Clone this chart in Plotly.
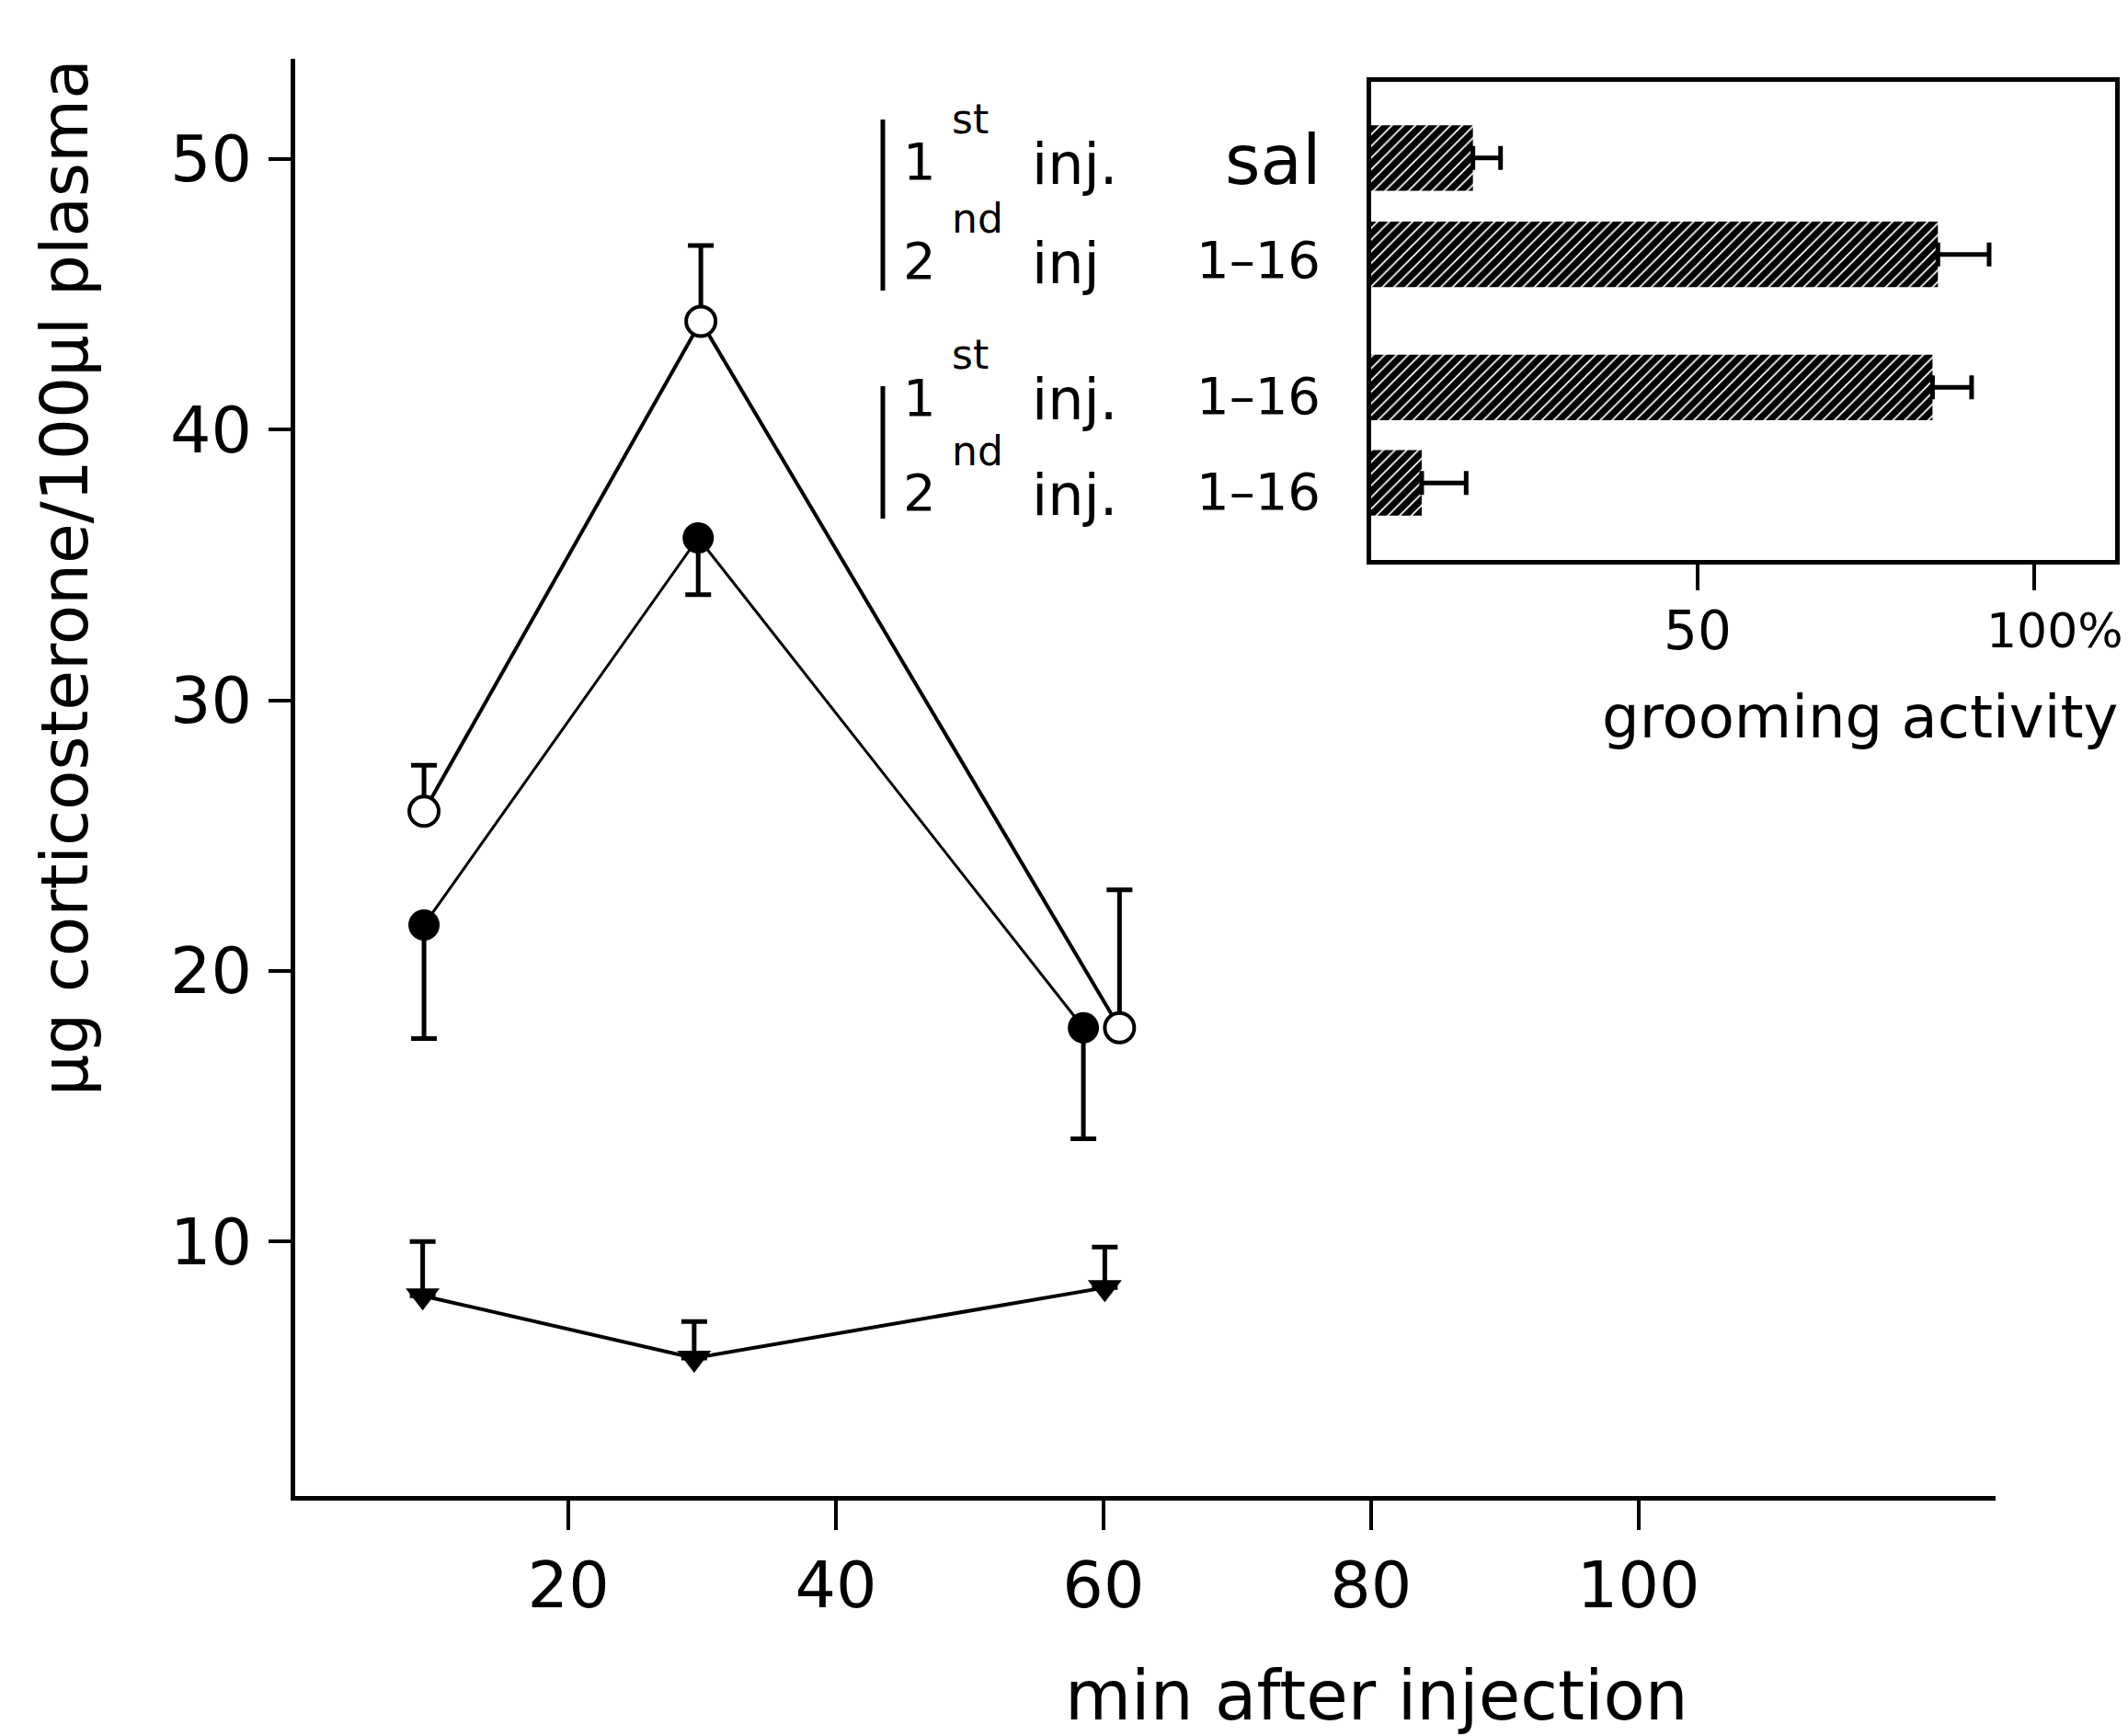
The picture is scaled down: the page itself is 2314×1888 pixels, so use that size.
import plotly.graph_objects as go

# ---------------- data ----------------
time_open = [9.2, 29.9, 61.2]
cort_open = [25.9, 44.0, 17.9]
err_open_up = [1.7, 2.8, 5.1]

time_filled = [9.2, 29.7, 58.5]
cort_filled = [21.7, 36.0, 17.9]
err_filled_down = [4.2, 2.1, 4.1]

time_tri = [9.1, 29.4, 60.1]
cort_tri = [8.0, 5.7, 8.3]
err_tri_up = [2.0, 1.35, 1.5]

x_ticks = [20, 40, 60, 80, 100]
y_ticks = [10, 20, 30, 40, 50]

groom_pos = [0, 1, 2.38, 3.37]
groom_vals = [16.7, 85.7, 84.9, 9.1]
groom_err = [4.1, 7.6, 5.8, 6.6]
groom_ticks = [50, 100]
groom_ticktext = ["50", "100%"]

row_ordinal = ["1", "2", "1", "2"]
row_suffix = ["st", "nd", "st", "nd"]
row_inj = ["inj.", "inj", "inj.", "inj."]
row_treat = ["sal", "1–16", "1–16", "1–16"]

W, H = 2314, 1888
FONT = "DejaVu Sans"


def px(x):
    return x / W


def py(y):
    return 1 - y / H


fig = go.Figure()

fig.add_trace(go.Scatter(
    x=time_filled, y=cort_filled, mode="lines+markers",
    line=dict(color="black", width=3),
    marker=dict(symbol="circle", size=34, color="black"),
    error_y=dict(type="data", symmetric=False, array=[0, 0, 0],
                 arrayminus=err_filled_down, color="black", thickness=5, width=14),
    showlegend=False))

fig.add_trace(go.Scatter(
    x=time_open, y=cort_open, mode="lines+markers",
    line=dict(color="black", width=4),
    marker=dict(symbol="circle", size=32, color="white",
                line=dict(color="black", width=4)),
    error_y=dict(type="data", symmetric=False, array=err_open_up,
                 arrayminus=[0, 0, 0], color="black", thickness=5, width=14),
    showlegend=False))

fig.add_trace(go.Scatter(
    x=time_tri, y=cort_tri, mode="lines+markers",
    line=dict(color="black", width=4),
    marker=dict(symbol="triangle-down", size=32, color="black"),
    error_y=dict(type="data", symmetric=False, array=err_tri_up,
                 arrayminus=[0, 0, 0], color="black", thickness=5, width=14),
    showlegend=False))

fig.add_trace(go.Bar(
    x=groom_vals, y=groom_pos, orientation="h", width=0.68,
    xaxis="x2", yaxis="y2",
    marker=dict(color="black", line=dict(width=0),
                pattern=dict(shape="/", fgcolor="black", bgcolor="white",
                             size=9, solidity=0.8, fillmode="replace")),
    error_x=dict(type="data", symmetric=False, array=groom_err,
                 arrayminus=[0, 0, 0, 0], color="black", thickness=5, width=13),
    showlegend=False))

fig.update_layout(
    width=W, height=H,
    margin=dict(l=0, r=0, t=0, b=0),
    paper_bgcolor="white", plot_bgcolor="rgba(0,0,0,0)",
    font=dict(family=FONT, color="black"),
    xaxis=dict(domain=[px(313), px(2162)], range=[-0.43, 126.7],
               tickvals=x_ticks, ticks="outside", ticklen=32, tickwidth=4,
               tickcolor="black", showline=True, linewidth=5, linecolor="black",
               showgrid=False, zeroline=False,
               tickfont=dict(family=FONT, size=70, color="black"),
               ticklabelstandoff=0, anchor="y"),
    yaxis=dict(domain=[py(1619), py(56)], range=[0.6, 53.7],
               tickvals=y_ticks, ticks="outside", ticklen=24, tickwidth=4,
               tickcolor="black", showline=True, linewidth=5, linecolor="black",
               showgrid=False, zeroline=False,
               tickfont=dict(family=FONT, size=70, color="black"),
               ticklabelstandoff=4, anchor="x"),
    xaxis2=dict(domain=[px(1483), px(2292)], range=[1.6, 112],
                tickvals=groom_ticks, showticklabels=False,
                ticks="outside", ticklen=28, tickwidth=4, tickcolor="black",
                showline=True, mirror=True, linewidth=5, linecolor="black",
                showgrid=False, zeroline=False, anchor="y2"),
    yaxis2=dict(domain=[py(601), py(81)], range=[4.17, -0.79],
                showticklabels=False, ticks="",
                showline=True, mirror=True, linewidth=5, linecolor="black",
                showgrid=False, zeroline=False, anchor="x2"),
)

annots = []
# axis titles
annots.append(dict(x=px(1489), y=py(1836), xref="paper", yref="paper",
                   xanchor="center", yanchor="middle",
                   text="min after injection", showarrow=False,
                   font=dict(family=FONT, size=74, color="black")))
annots.append(dict(x=px(62), y=py(620), xref="paper", yref="paper",
                   xanchor="center", yanchor="middle",
                   text="µg corticosterone/100µl plasma", textangle=-90,
                   showarrow=False, font=dict(family=FONT, size=71, color="black")))
annots.append(dict(x=px(2014), y=py(772), xref="paper", yref="paper",
                   xanchor="center", yanchor="middle",
                   text="grooming activity", showarrow=False,
                   font=dict(family=FONT, size=64, color="black")))
# inset tick labels
tick_dx = [0, 22]
tick_size = [58, 52]
for v, t, dx, fs in zip(groom_ticks, groom_ticktext, tick_dx, tick_size):
    annots.append(dict(x=v, y=py(678), xref="x2", yref="paper",
                       xanchor="center", yanchor="middle", xshift=dx,
                       text=t, showarrow=False,
                       font=dict(family=FONT, size=fs, color="black")))

# inset row labels
row_y = [168, 276, 424, 528]
for o, s, inj, trt, yy in zip(row_ordinal, row_suffix, row_inj, row_treat, row_y):
    annots.append(dict(x=px(992), y=py(yy), xref="paper", yref="paper",
                       text=o, showarrow=False, xanchor="center", yanchor="middle",
                       font=dict(family=FONT, size=56, color="black")))
    annots.append(dict(x=px(1025), y=py(yy - 46), xref="paper", yref="paper",
                       text=s, showarrow=False, xanchor="left", yanchor="middle",
                       font=dict(family=FONT, size=44, color="black")))
    annots.append(dict(x=px(1112), y=py(yy + 2), xref="paper", yref="paper",
                       text=inj, showarrow=False, xanchor="left", yanchor="middle",
                       font=dict(family=FONT, size=62, color="black")))
    annots.append(dict(x=px(1430), y=py(yy - 2), xref="paper", yref="paper",
                       text=trt, showarrow=False, xanchor="right", yanchor="middle",
                       font=dict(family=FONT, size=74 if trt == "sal" else 56,
                                 color="black")))
fig.update_layout(annotations=annots)

shapes = []
for y0, y1 in [(122, 308), (412, 556)]:
    shapes.append(dict(type="line", xref="paper", yref="paper",
                       x0=px(952), x1=px(952), y0=py(y0), y1=py(y1),
                       line=dict(color="black", width=5)))
fig.update_layout(shapes=shapes)

fig.write_html("out.html")
